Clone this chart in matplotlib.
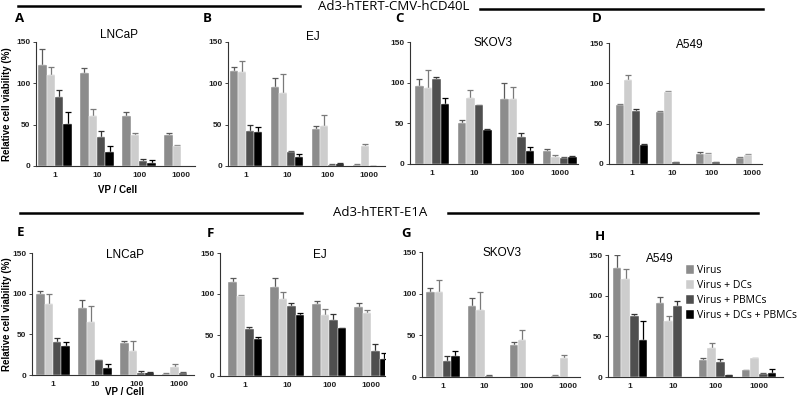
import matplotlib
matplotlib.use('Agg')
import matplotlib.pyplot as plt
import numpy as np

W, H = 800, 404
fig = plt.figure(figsize=(W / 100, H / 100), dpi=100)
fig.patch.set_facecolor('white')

doses = ['1', '10', '100', '1000']
series = ['Virus', 'Virus + DCs', 'Virus + PBMCs', 'Virus + DCs + PBMCs']
colors = ['#8c8c8c', '#cdcdcd', '#4f4f4f', '#000000']
ecolors = ['#5a5a5a', '#7a7a7a', '#333333', '#000000']

# rows = series (Virus, +DCs, +PBMCs, +DCs+PBMCs), cols = doses
A_mean = [[122, 113, 60, 37], [110, 60, 37, 24], [84, 35, 6, 0], [51, 17, 4, 0]]
A_err = [[20, 5, 5, 3], [10, 9, 3, 2], [8, 7, 2, 0], [14, 7, 3, 0]]
B_mean = [[115, 95, 45, 1], [114, 88, 48, 24], [42, 17, 1, 0.5], [41, 11, 2, 0]]
B_err = [[5, 11, 3, 2], [13, 23, 14, 3], [7, 1, 1, 0], [6, 4, 2, 0]]
C_mean = [[96, 51, 80, 16], [93, 81, 80, 9], [104, 72, 33, 7], [74, 42, 16, 9]]
C_err = [[9, 3, 19, 2], [22, 10, 15, 2], [3, 1, 5, 1], [7, 1, 5, 1]]
D_mean = [[73, 65, 12, 7], [104, 89, 12, 11], [66, 2, 2, 0], [23, 0, 0, 0]]
D_err = [[1, 1, 3, 2], [6, 2, 2, 2], [2, 1, 1, 0], [2, 0, 0, 0]]
E_mean = [[99, 82, 39, 1], [87, 65, 30, 10], [40, 18, 3, 3], [36, 9, 2, 0]]
E_err = [[4, 10, 3, 1], [12, 20, 12, 3], [6, 1, 2, 1], [5, 4, 2, 0]]
F_mean = [[115, 108, 88, 84], [98, 94, 74, 77], [57, 85, 68, 31], [45, 75, 58, 21]]
F_err = [[5, 12, 3, 5], [1, 9, 8, 4], [3, 4, 8, 8], [2, 2, 1, 7]]
G_mean = [[102, 85, 39, 1], [102, 80, 44, 23], [19, 1, 0, 0], [25, 0, 0, 0]]
G_err = [[5, 10, 3, 1], [14, 22, 13, 4], [6, 1, 0, 0], [6, 0, 0, 0]]
H_mean = [[134, 91, 21, 8], [121, 69, 36, 23], [75, 87, 18, 4], [46, 0, 2, 5]]
H_err = [[16, 7, 2, 1], [12, 6, 6, 0.5], [2, 7, 4, 1], [23, 0, 1, 5]]

panels = [
    # letter, cell line, mean, err, axes px box (x0, x1, ytop, ybot), xlim, title pos, letter pos
    ('A', 'LNCaP', A_mean, A_err, (36, 195, 42, 166), (-0.45, 3.33), (119, 35), (20, 19)),
    ('B', 'EJ', B_mean, B_err, (228, 385, 42, 166), (-0.44, 3.39), (313, 37), (207, 19)),
    ('C', 'SKOV3', C_mean, C_err, (410, 578, 42, 164), (-0.52, 3.43), (493, 43), (400, 19)),
    ('D', 'A549', D_mean, D_err, (609, 762, 43, 164), (-0.57, 3.25), (690, 45), (597, 19)),
    ('E', 'LNCaP', E_mean, E_err, (32, 194, 253, 375), (-0.5, 3.36), (125, 255), (20, 233)),
    ('F', 'EJ', F_mean, F_err, (220, 385, 253, 376), (-0.6, 3.33), (320, 255), (210, 234)),
    ('G', 'SKOV3', G_mean, G_err, (422, 580, 252, 377), (-0.5, 3.29), (502, 253), (406, 234)),
    ('H', 'A549', H_mean, H_err, (608, 783, 255, 377), (-0.51, 3.56), (660, 259), (600, 237)),
]

FONT = 'Liberation Sans'
HFONT = 'Open Sans'
bw = 0.2
x = np.arange(len(doses))

axes = {}
for letter, cell, mean, err, (x0, x1, yt, yb), xl, tpos, lpos in panels:
    ax = fig.add_axes([x0 / W, 1 - yb / H, (x1 - x0) / W, (yb - yt) / H])
    axes[letter] = ax
    for i in range(4):
        xs = x + (i - 1.5) * bw
        m = np.array(mean[i], dtype=float)
        e = np.array(err[i], dtype=float)
        ax.bar(xs, m, width=bw, color=colors[i], edgecolor='white', linewidth=0.3,
               label=series[i], zorder=2)
        keep = (m > 0) | (e > 0)
        ax.errorbar(xs[keep], m[keep], yerr=[np.zeros(keep.sum()), e[keep]], fmt='none',
                    ecolor=ecolors[i], elinewidth=0.9, capsize=2.2, capthick=0.9, zorder=1)
    ax.set_xlim(*xl)
    ax.set_ylim(0, 150)
    ax.set_yticks([0, 50, 100, 150])
    ax.set_xticks(x)
    ax.set_xticklabels(doses)
    for s in ['top', 'right']:
        ax.spines[s].set_visible(False)
    for s in ['left', 'bottom']:
        ax.spines[s].set_linewidth(0.8)
        ax.spines[s].set_color('#333333')
    ax.tick_params(axis='both', labelsize=6, length=2, width=0.6, pad=2, colors='#222222')
    ax.tick_params(axis='x', length=0, pad=4)
    for t in ax.get_xticklabels() + ax.get_yticklabels():
        t.set_fontweight('bold')
        t.set_fontfamily(FONT)
    ax.patch.set_alpha(0)
    fig.text(tpos[0] / W, 1 - tpos[1] / H, cell, ha='center', va='center', fontsize=8.5,
             family=FONT)
    fig.text(lpos[0] / W, 1 - lpos[1] / H, letter, ha='center', va='center', fontsize=9.5,
             fontweight='bold', family=HFONT)

# axis labels
for yc in (104, 314):
    fig.text(7 / W, 1 - yc / H, 'Relative cell viability (%)', rotation=90, ha='center',
             va='center', fontsize=7, fontweight='bold', family=FONT)
fig.text(118 / W, 1 - 190 / H, 'VP / Cell', ha='center', va='center', fontsize=7,
         fontweight='bold', family=FONT)
fig.text(125 / W, 1 - 392 / H, 'VP / Cell', ha='center', va='center', fontsize=7,
         fontweight='bold', family=FONT)

# group headers
fig.add_artist(plt.Line2D([18 / W, 300 / W], [1 - 6 / H, 1 - 6 / H], color='black', lw=1.8))
fig.add_artist(plt.Line2D([480 / W, 763 / W], [1 - 9 / H, 1 - 9 / H], color='black', lw=1.8))
fig.text(394 / W, 1 - 7 / H, 'Ad3-hTERT-CMV-hCD40L', ha='center', va='center', fontsize=9.5,
         family=HFONT)
fig.add_artist(plt.Line2D([20 / W, 302 / W], [1 - 213 / H, 1 - 213 / H], color='black', lw=1.8))
fig.add_artist(plt.Line2D([448 / W, 758 / W], [1 - 213 / H, 1 - 213 / H], color='black', lw=1.8))
fig.text(380 / W, 1 - 213 / H, 'Ad3-hTERT-E1A', ha='center', va='center', fontsize=9.5,
         family=HFONT)

# legend in panel H
handles, labels = axes['H'].get_legend_handles_labels()
fig.legend(handles, labels, loc='upper left', bbox_to_anchor=(686 / W, 1 - 265 / H),
           frameon=False, handlelength=0.8, handleheight=1.0,
           handletextpad=0.3, labelspacing=0.35, borderaxespad=0, borderpad=0,
           prop={'family': HFONT, 'size': 7.5})

plt.savefig('out.png', dpi=100, facecolor='white')
